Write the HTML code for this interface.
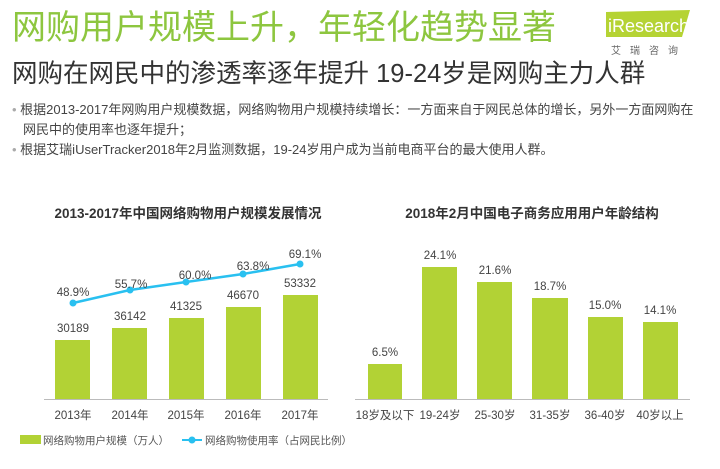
<!DOCTYPE html>
<html><head><meta charset="utf-8"><style>
body{margin:0;width:720px;height:469px;background:#fff;overflow:hidden;position:relative;font-family:"Liberation Sans","Noto Sans CJK SC",sans-serif;}
.a{position:absolute;white-space:nowrap;}
</style></head><body>
<div class="a" style="left:12px;top:7px;font-size:34px;color:#8dc63f;line-height:42px;">网购用户规模上升，年轻化趋势显著</div>
<div class="a" style="left:12px;top:57px;font-size:25.5px;color:#333;line-height:34px;">网购在网民中的渗透率逐年提升 19-24岁是网购主力人群</div>
<div class="a" style="left:12px;top:100px;font-size:13px;color:#444;line-height:20px;"><span style="color:#aaa">•</span> 根据2013-2017年网购用户规模数据，网络购物用户规模持续增长：一方面来自于网民总体的增长，另外一方面网购在</div>
<div class="a" style="left:23px;top:120px;font-size:13px;color:#444;line-height:20px;">网民中的使用率也逐年提升；</div>
<div class="a" style="left:12px;top:140px;font-size:13px;color:#444;line-height:20px;"><span style="color:#aaa">•</span> 根据艾瑞iUserTracker2018年2月监测数据，19-24岁用户成为当前电商平台的最大使用人群。</div>
<svg class="a" style="left:0;top:0" width="720" height="469">
<polygon points="606,12 690,10 682,37 606,37" fill="#b5d334"/>
<text x="608" y="32" font-size="18" fill="#fff" font-family="Liberation Sans">iResearch</text>
<text x="611" y="54" font-size="10" fill="#666" letter-spacing="9" font-family="Noto Sans CJK SC">艾瑞咨询</text>
<g font-family="Liberation Sans,Noto Sans CJK SC,sans-serif" font-weight="bold" font-size="13.5" fill="#333">
<text x="188" y="218" text-anchor="middle">2013-2017年中国网络购物用户规模发展情况</text>
<text x="532" y="218" text-anchor="middle">2018年2月中国电子商务应用用户年龄结构</text>
</g>
<g fill="#b2d235">
<rect x="55" y="340" width="35" height="59"/><rect x="112" y="328" width="35" height="71"/><rect x="169" y="318" width="35" height="81"/><rect x="226" y="307" width="35" height="92"/><rect x="283" y="295" width="35" height="104"/>
<rect x="368" y="364" width="34" height="35"/><rect x="422" y="267" width="35" height="132"/><rect x="477" y="282" width="35" height="117"/><rect x="532" y="298" width="36" height="101"/><rect x="588" y="317" width="35" height="82"/><rect x="643" y="322" width="35" height="77"/>
</g>
<line x1="44" y1="399.5" x2="328" y2="399.5" stroke="#bbb"/>
<line x1="355" y1="399.5" x2="690" y2="399.5" stroke="#bbb"/>
<polyline points="73,303 130,290 186,282 243,274 300,264" fill="none" stroke="#29c0f0" stroke-width="2.5"/>
<g fill="#29c0f0"><circle cx="73" cy="303" r="3.5"/><circle cx="130" cy="290" r="3.5"/><circle cx="186" cy="282" r="3.5"/><circle cx="243" cy="274" r="3.5"/><circle cx="300" cy="264" r="3.5"/></g>
<g font-family="Liberation Sans,Noto Sans CJK SC,sans-serif" font-size="11.5" fill="#444" text-anchor="middle">
<text x="73" y="296">48.9%</text><text x="131" y="288">55.7%</text><text x="195" y="279">60.0%</text><text x="253" y="270">63.8%</text><text x="305" y="258">69.1%</text>
<text x="73" y="332">30189</text><text x="130" y="320">36142</text><text x="186" y="310">41325</text><text x="243" y="299">46670</text><text x="300" y="287">53332</text>
<text x="73" y="419">2013年</text><text x="130" y="419">2014年</text><text x="186" y="419">2015年</text><text x="243" y="419">2016年</text><text x="300" y="419">2017年</text>
<text x="385" y="356">6.5%</text><text x="440" y="259">24.1%</text><text x="495" y="274">21.6%</text><text x="550" y="290">18.7%</text><text x="605" y="309">15.0%</text><text x="660" y="314">14.1%</text>
<text x="385" y="419">18岁及以下</text><text x="440" y="419">19-24岁</text><text x="495" y="419">25-30岁</text><text x="550" y="419">31-35岁</text><text x="605" y="419">36-40岁</text><text x="660" y="419">40岁以上</text>
</g>
<rect x="20" y="435" width="21" height="9" fill="#b2d235"/>
<line x1="182" y1="440" x2="202" y2="440" stroke="#29c0f0" stroke-width="2"/><circle cx="192" cy="440" r="3.5" fill="#29c0f0"/>
<g font-family="Liberation Sans,Noto Sans CJK SC,sans-serif" font-size="10.5" fill="#555">
<text x="43" y="444">网络购物用户规模（万人）</text><text x="205" y="444">网络购物使用率（占网民比例）</text>
</g>
</svg>
</body></html>
